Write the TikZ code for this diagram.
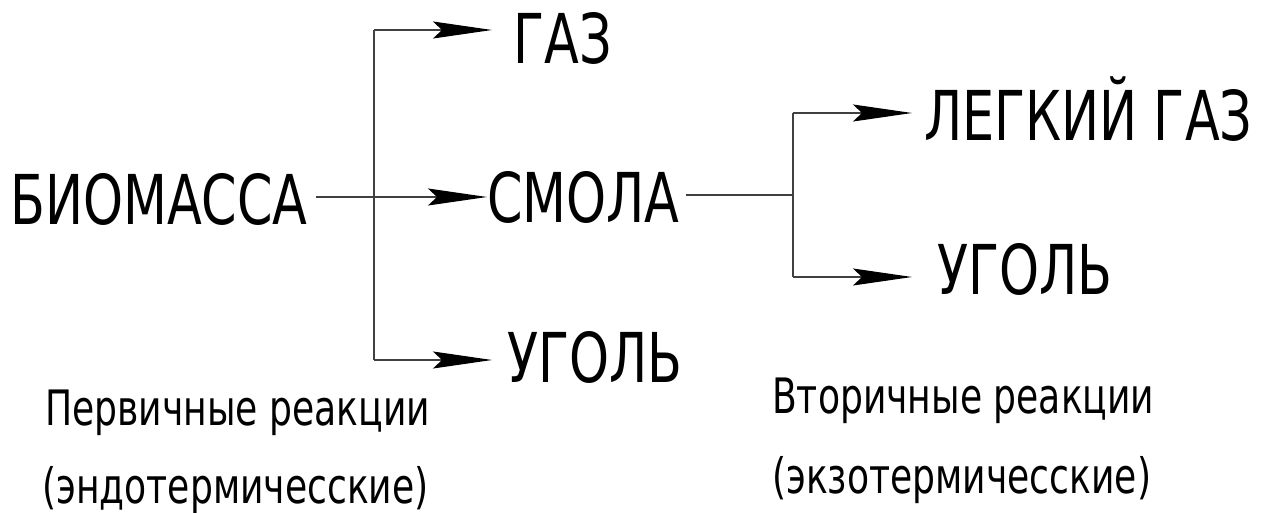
\documentclass[tikz,border=0pt]{standalone}
\usepackage{fontspec}
\setmainfont{DejaVu Sans}
\newfontfamily\gostbig[FakeStretch=0.74]{DejaVu Sans}
\newfontfamily\gostsmall[FakeStretch=0.74]{DejaVu Sans}
\usetikzlibrary{arrows.meta}
\begin{document}
\begin{tikzpicture}[x=1bp,y=-1bp,
  big/.style={font=\gostbig\fontsize{69}{69}\selectfont, inner sep=0pt, anchor=base west},
  small/.style={font=\gostsmall\fontsize{49}{49}\selectfont, inner sep=0pt, anchor=base west},
  conn/.style={line width=1.4bp, draw=black!75},
  arr/.style={conn, -{Stealth[length=59bp,width=17bp,inset=9bp,color=black]}}]
\useasboundingbox (0,0) rectangle (1279,513);

% products
\node[big] (bio)   at (10,225)  {БИОМАССА};
\node[big] (gaz)   at (513,64)  {ГАЗ};
\node[big] (smola) at (487,223) {СМОЛА};
\node[big] (ugol1) at (507,383) {УГОЛЬ};
\node[big] (lgaz)  at (924,141) {ЛЕГКИЙ ГАЗ};
\node[big] (ugol2) at (937,295) {УГОЛЬ};

% captions
\node[small] (prim1) at (45,425) {Первичные реакции};
\node[small] (prim2) at (42,503) {(эндотермичесские)};
\node[small] (sec1)  at (772,413) {Вторичные реакции};
\node[small] (sec2)  at (772,493) {(экзотермичесские)};

% branching points and arrow tips
\coordinate (j1)  at (374,197);
\coordinate (j1t) at (374,30);
\coordinate (j1b) at (374,360);
\coordinate (tg)  at (492,30);
\coordinate (tu1) at (492,360);
\coordinate (j2)  at (793,195);
\coordinate (j2t) at (793,113);
\coordinate (j2b) at (793,277);
\coordinate (tl)  at (912,113);
\coordinate (tu2) at (912,277);

% primary reactions
\draw[conn] (j1t) -- (j1b);
\draw[arr, shorten <=8bp] (bio.east |- j1) -- (smola.west |- j1);
\draw[arr] (j1t) -- (tg);
\draw[arr] (j1b) -- (tu1);

% secondary reactions
\draw[conn, shorten <=6bp] (smola.east |- j2) -- (j2);
\draw[conn] (j2t) -- (j2b);
\draw[arr] (j2t) -- (tl);
\draw[arr] (j2b) -- (tu2);
\end{tikzpicture}
\end{document}
